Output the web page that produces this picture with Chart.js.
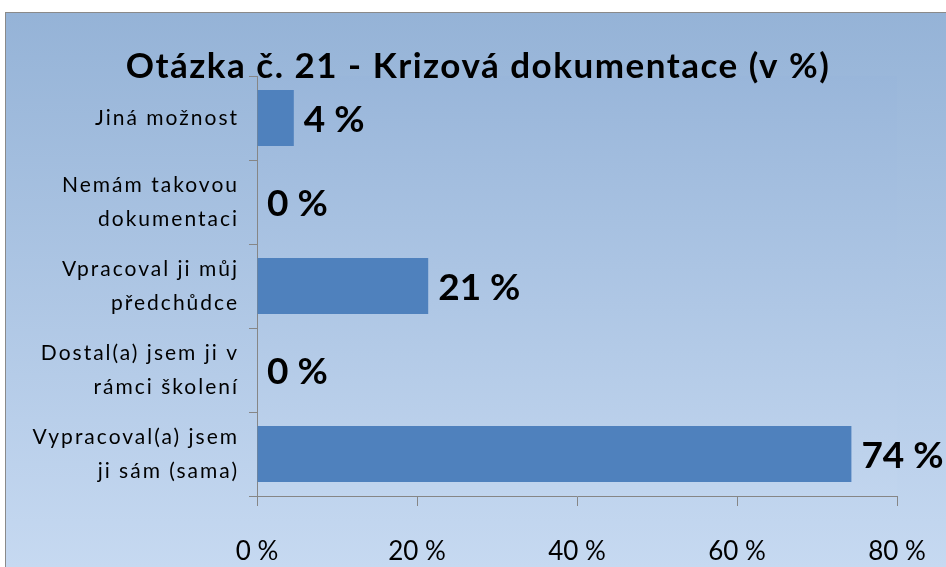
<!DOCTYPE html>
<html>
<head>
<meta charset="utf-8">
<script src="https://cdn.jsdelivr.net/npm/chart.js@4"></script>
<style>
  html, body { margin: 0; padding: 0; background: #ffffff; }
  #frame {
    position: absolute; left: 5px; top: 12px; width: 940px; height: 554px;
    border-top: 1px solid #8a8a8a; border-left: 1px solid #8a8a8a;
    background: linear-gradient(to bottom, #95b3d7 0%, #c6d9f1 100%);
  }
  #wrap { position: absolute; left: 0; top: 0; width: 940px; height: 554px; }
</style>
</head>
<body>
<div id="frame"><div id="wrap"><canvas id="chart"></canvas></div></div>
<script>
// data
const chartTitle = 'Otázka č. 21 - Krizová dokumentace (v %)';
const categories = [
  ['Jiná možnost'],
  ['Nemám takovou', 'dokumentaci'],
  ['Vpracoval ji můj', 'předchůdce'],
  ['Dostal(a) jsem ji v', 'rámci školení'],
  ['Vypracoval(a) jsem', 'ji sám (sama)']
];
const values = [4.6, 0, 21.4, 0, 74.3];
const valueLabels = ['4 %', '0 %', '21 %', '0 %', '74 %'];
const xTicks = [0, 20, 40, 60, 80];

// plot area background
const plotBg = {
  id: 'plotBg',
  beforeDraw(chart) {
    const { ctx, chartArea: a } = chart;
    const g = ctx.createLinearGradient(0, a.top, 0, a.bottom);
    g.addColorStop(0, '#99b6da');
    g.addColorStop(1, '#c1d5ee');
    ctx.save();
    ctx.fillStyle = g;
    ctx.fillRect(a.left, a.top, a.right - a.left, a.bottom - a.top);
    ctx.restore();
  }
};

// category labels are a bit spaced out in the original
const spacedLabels = {
  id: 'spacedLabels',
  afterLayout(chart) {
    const y = chart.scales.y;
    if (y._spaced) return;
    const orig = y.drawLabels.bind(y);
    y.drawLabels = function(area) {
      chart.ctx.save();
      chart.ctx.letterSpacing = '2px';
      orig(area);
      chart.ctx.restore();
    };
    y._spaced = true;
  }
};

// title drawn over the plot (overlaps like in the original)
const overTitle = {
  id: 'overTitle',
  afterDraw(chart) {
    const ctx = chart.ctx;
    ctx.save();
    ctx.font = 'bold 35px Lato';
    ctx.letterSpacing = '1.5px';
    ctx.fillStyle = '#000';
    ctx.textAlign = 'center';
    ctx.textBaseline = 'middle';
    ctx.fillText(chartTitle, chart.width / 2 + 2, 54);
    ctx.restore();
  }
};

// value labels at bar ends
const barLabels = {
  id: 'barLabels',
  afterDatasetsDraw(chart) {
    const ctx = chart.ctx;
    const meta = chart.getDatasetMeta(0);
    ctx.save();
    ctx.font = 'bold 37px Lato';
    ctx.fillStyle = '#000';
    ctx.textAlign = 'left';
    ctx.textBaseline = 'middle';
    meta.data.forEach((bar, i) => {
      ctx.fillText(valueLabels[i], bar.x + 10, bar.y + 2);
    });
    ctx.restore();
  }
};

new Chart(document.getElementById('chart'), {
  type: 'bar',
  data: {
    labels: categories,
    datasets: [{
      data: values,
      backgroundColor: '#4f81bd',
      borderWidth: 0,
      categoryPercentage: 0.667,
      barPercentage: 1
    }]
  },
  options: {
    indexAxis: 'y',
    responsive: true,
    maintainAspectRatio: false,
    animation: false,
    layout: { padding: { top: 63, right: 49, left: 0, bottom: 0 } },
    plugins: {
      legend: { display: false },
      tooltip: { enabled: false },
      title: { display: false }
    },
    scales: {
      x: {
        min: 0, max: 80,
        afterBuildTicks(scale) { scale.ticks = xTicks.map(v => ({ value: v })); },
        afterFit(scale) {
          scale.height = 71;
          scale.paddingLeft = 0;
          scale.paddingRight = 0;
        },
        grid: { drawOnChartArea: false, drawTicks: true, tickLength: 10, color: '#868686' },
        border: { display: true, color: '#868686' },
        ticks: {
          padding: 30,
          color: '#000',
          font: { family: 'Lato', size: 26 },
          maxRotation: 0,
          callback: v => v + ' %'
        }
      },
      y: {
        afterFit(scale) { scale.width = 251; },
        grid: { drawOnChartArea: false, drawTicks: true, tickLength: 8, color: '#868686', offset: true },
        border: { display: true, color: '#868686' },
        ticks: {
          padding: 10,
          color: '#000',
          font: { family: 'Lato', size: 21, lineHeight: 1.6 },
          crossAlign: 'near'
        }
      }
    }
  },
  plugins: [plotBg, spacedLabels, barLabels, overTitle]
});
</script>
</body>
</html>
